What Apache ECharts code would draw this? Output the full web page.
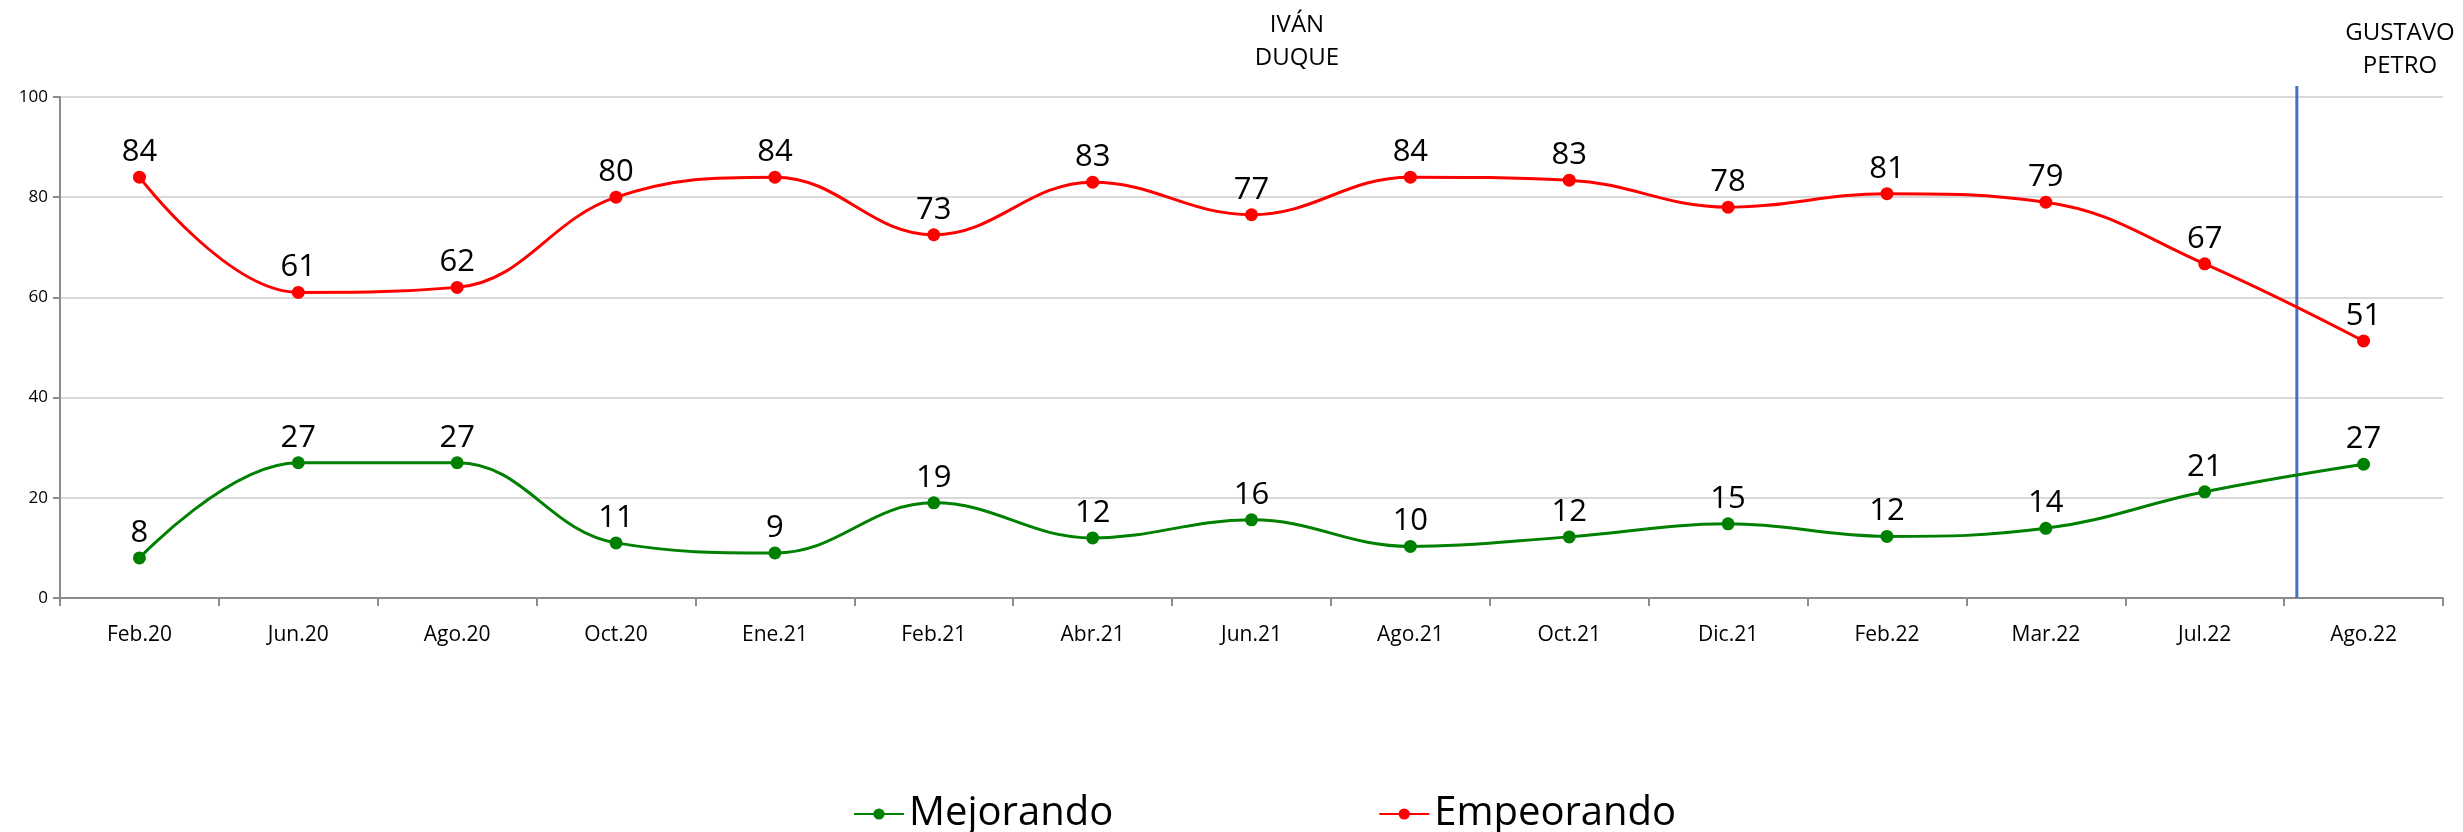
<!DOCTYPE html>
<html>
<head>
<meta charset="utf-8">
<script src="https://cdn.jsdelivr.net/npm/echarts@6/dist/echarts.min.js"></script>
<style>html,body{margin:0;padding:0;background:#fff}#c{width:2463px;height:832px}</style>
</head>
<body>
<div id="c"></div>
<script>
var categories = ['Feb.20','Jun.20','Ago.20','Oct.20','Ene.21','Feb.21','Abr.21','Jun.21','Ago.21','Oct.21','Dic.21','Feb.22','Mar.22','Jul.22','Ago.22'];
var mejorando = [8, 27, 27, 11, 9, 19, 12, 15.6, 10.3, 12.2, 14.8, 12.3, 13.9, 21.2, 26.7];
var empeorando = [84, 61, 62, 80, 84, 72.5, 83, 76.5, 84, 83.4, 78, 80.7, 79, 66.7, 51.3];
var yTicks = [0, 20, 40, 60, 80, 100];
var periodLabels = [{text: 'IVÁN\nDUQUE', x: 1297, top: 9}, {text: 'GUSTAVO\nPETRO', x: 2400, top: 17}];
var changeLine = [[13.58, 0], [13.58, 102.2]]; // government change, category-index units

var chart = echarts.init(document.getElementById('c'));
var font = "'Open Sans', sans-serif";
var labelCfg = {
  show: true, position: 'top', distance: 3,
  fontFamily: font, fontSize: 31, color: '#000',
  formatter: function (p) { return Math.round(p.value); }
};
chart.setOption({
  animation: false,
  backgroundColor: '#fff',
  grid: {left: 60, right: 20, top: 97, bottom: 234},
  legend: {
    top: 789, left: 848, itemGap: 265, itemWidth: 50, itemHeight: 14,
    textStyle: {fontFamily: font, fontSize: 40, color: '#000'},
    data: ['Mejorando', 'Empeorando']
  },
  xAxis: [{
    type: 'category', data: categories, boundaryGap: true,
    axisLine: {lineStyle: {color: '#8c8c8c', width: 2}},
    axisTick: {show: true, interval: 0, length: 8, lineStyle: {color: '#8c8c8c', width: 2}},
    axisLabel: {interval: 0, margin: 27, fontFamily: font, fontSize: 21, color: '#000'}
  }, {
    type: 'value', min: -0.5, max: 14.5, show: false
  }],
  yAxis: {
    type: 'value', min: yTicks[0], max: yTicks[yTicks.length - 1], interval: 20,
    axisLine: {show: true, onZero: false, lineStyle: {color: '#8c8c8c', width: 2}},
    axisTick: {show: true, length: 7, lineStyle: {color: '#8c8c8c', width: 2}},
    axisLabel: {margin: 12, fontFamily: font, fontSize: 17, color: '#000'},
    splitLine: {lineStyle: {color: '#d9d9d9', width: 2}}
  },
  graphic: periodLabels.map(function (p) {
    return {type: 'text', left: p.x - 60, top: p.top,
      style: {text: p.text, width: 120, align: 'center', textAlign: 'center', x: 60,
        font: "24px 'Open Sans', sans-serif", lineHeight: 33, fill: '#000'}};
  }),
  series: [{
    name: 'cambio', type: 'line', xAxisIndex: 1, data: changeLine, z: 1,
    clip: false, symbol: 'none', silent: true,
    lineStyle: {color: '#4472c4', width: 3}, label: {show: false}
  }, {
    name: 'Mejorando', type: 'line', data: mejorando, smooth: 0.4,
    symbol: 'circle', symbolSize: 13, color: '#008000',
    lineStyle: {color: '#008000', width: 3}, itemStyle: {color: '#008000'},
    label: labelCfg, z: 3
  }, {
    name: 'Empeorando', type: 'line', data: empeorando, smooth: 0.4,
    symbol: 'circle', symbolSize: 13, color: '#ff0000',
    lineStyle: {color: '#ff0000', width: 3}, itemStyle: {color: '#ff0000'},
    label: labelCfg, z: 3
  }]
});
</script>
</body>
</html>
